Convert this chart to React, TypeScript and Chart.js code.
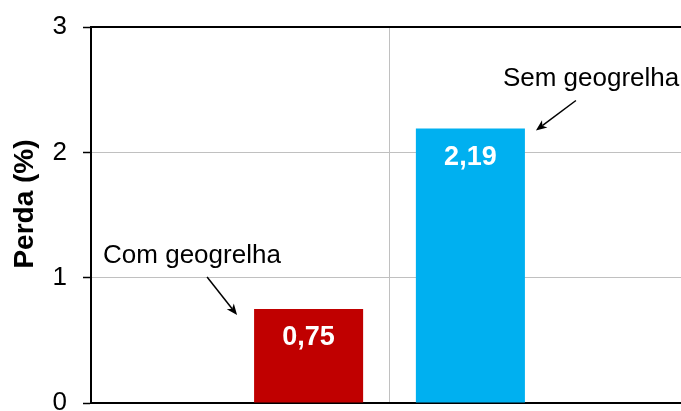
import React, { useEffect, useRef } from "react";
import { Chart, registerables } from "chart.js";

Chart.register(...registerables);

// Chart data
const categories = [""];
const seriesNames = ["Com geogrelha", "Sem geogrelha"];
const seriesValues = [0.75, 2.19];
const seriesColors = ["#C00000", "#00B0F0"];
const yTickValues = [0, 1, 2, 3];
const yTitle = "Perda (%)";

const FONT = "'Liberation Sans', Arial, Helvetica, sans-serif";

const formatValue = (v: number) => v.toFixed(2).replace(".", ",");

function drawArrow(ctx: CanvasRenderingContext2D, x1: number, y1: number, x2: number, y2: number) {
  const ang = Math.atan2(y2 - y1, x2 - x1);
  const len = 11;
  const half = 4.5;
  const bx = x2 - len * Math.cos(ang);
  const by = y2 - len * Math.sin(ang);
  ctx.beginPath();
  ctx.moveTo(x1, y1);
  ctx.lineTo(bx + 3 * Math.cos(ang), by + 3 * Math.sin(ang));
  ctx.stroke();
  ctx.beginPath();
  ctx.moveTo(x2, y2);
  ctx.lineTo(bx - half * Math.sin(ang), by + half * Math.cos(ang));
  ctx.lineTo(bx + 3 * Math.cos(ang), by + 3 * Math.sin(ang));
  ctx.lineTo(bx + half * Math.sin(ang), by - half * Math.cos(ang));
  ctx.closePath();
  ctx.fill();
}

// Plot frame, axis title, value labels inside bars and callouts naming each series
const decorations = {
  id: "decorations",
  afterDatasetsDraw(chart: any) {
    const ctx: CanvasRenderingContext2D = chart.ctx;
    const area = chart.chartArea;
    ctx.save();
    ctx.strokeStyle = "#000";
    ctx.lineWidth = 2;
    ctx.beginPath();
    ctx.moveTo(area.left, area.top);
    ctx.lineTo(area.right, area.top);
    ctx.stroke();

    // rotated y-axis title
    ctx.save();
    ctx.translate(33, (area.top + area.bottom) / 2 - 11);
    ctx.rotate(-Math.PI / 2);
    ctx.fillStyle = "#000";
    ctx.font = `bold 28px ${FONT}`;
    ctx.textAlign = "center";
    ctx.textBaseline = "alphabetic";
    ctx.fillText(yTitle, 0, 0);
    ctx.restore();

    chart.data.datasets.forEach((ds: any, i: number) => {
      const bar = chart.getDatasetMeta(i).data[0];
      const { x, y, width } = bar.getProps(["x", "y", "width"], true);
      ctx.fillStyle = "#fff";
      ctx.font = `bold 27px ${FONT}`;
      ctx.textAlign = "center";
      ctx.textBaseline = "middle";
      ctx.fillText(formatValue(ds.data[0]), x, y + 29);

      const left = x - width / 2;
      const right = x + width / 2;
      ctx.fillStyle = "#000";
      ctx.strokeStyle = "#000";
      ctx.lineWidth = 1.5;
      ctx.font = `26px ${FONT}`;
      ctx.textAlign = "left";
      ctx.textBaseline = "alphabetic";
      if (i === 0) {
        ctx.fillText(ds.label, left - 151, y - 46);
        drawArrow(ctx, left - 47, y - 32, left - 17, y + 6);
      } else {
        ctx.fillText(ds.label, right - 22, y - 43);
        drawArrow(ctx, right + 51, y - 28, right + 11, y + 2);
      }
    });
    ctx.restore();
  },
};

export default function App() {
  const canvasRef = useRef<HTMLCanvasElement | null>(null);

  useEffect(() => {
    if (!canvasRef.current) return;
    const chart = new Chart(canvasRef.current, {
      type: "bar",
      data: {
        labels: categories,
        datasets: seriesNames.map((name, i) => ({
          label: name,
          data: [seriesValues[i]],
          backgroundColor: seriesColors[i],
          borderWidth: 0,
          categoryPercentage: 0.542,
          barPercentage: 0.674,
        })),
      },
      options: {
        responsive: false,
        animation: false,
        devicePixelRatio: 1,
        layout: { padding: { left: 0, top: 27, right: 32, bottom: 37 } },
        plugins: { legend: { display: false }, tooltip: { enabled: false } },
        scales: {
          x: {
            type: "category",
            ticks: { display: false },
            grid: { offset: false, color: "#C0C0C0", lineWidth: 1, drawTicks: false },
            border: { color: "#000", width: 2 },
            afterFit: (scale: any) => {
              scale.height = 0;
            },
          },
          y: {
            min: yTickValues[0],
            max: yTickValues[yTickValues.length - 1],
            afterBuildTicks: (scale: any) => {
              scale.ticks = yTickValues.map((v) => ({ value: v }));
            },
            ticks: {
              color: "#000",
              font: { family: FONT, size: 26 },
              padding: 16,
              callback: (v: any) => String(v),
            },
            grid: {
              color: "#C0C0C0",
              lineWidth: 1,
              tickColor: "#000",
              tickLength: 8,
              tickWidth: 1.5,
            },
            border: { color: "#000", width: 2 },
            title: { display: false },
            afterFit: (scale: any) => {
              scale.width = 91;
              scale.paddingTop = 10;
              scale.paddingBottom = 10;
            },
          },
        },
      },
      plugins: [decorations],
    });
    return () => chart.destroy();
  }, []);

  return (
    <div
      style={{
        position: "fixed",
        left: 0,
        top: 0,
        width: 681,
        height: 411,
        overflow: "hidden",
        background: "#fff",
      }}
    >
      <canvas ref={canvasRef} width={720} height={440} style={{ display: "block" }} />
    </div>
  );
}
